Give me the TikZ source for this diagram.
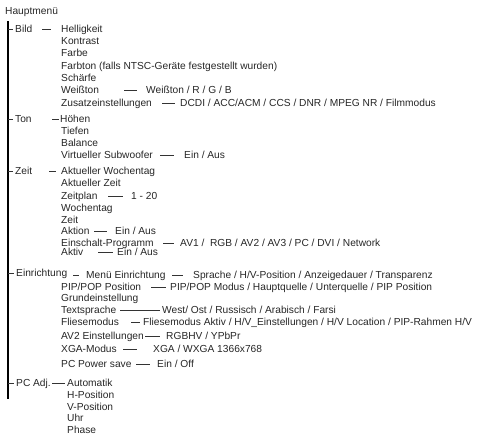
\documentclass[tikz,border=0pt]{standalone}
\usepackage{fontspec}
\setmainfont{Liberation Sans}
\begin{document}
\begin{tikzpicture}[x=1pt,y=-1pt,
  lbl/.style={anchor=west, inner sep=0pt, text height=7pt, text depth=1pt,
    font=\fontsize{10.2}{12}\selectfont, text=black!85},
  conn/.style={draw=black!80, line width=0.8pt},
  trunk/.style={draw=black, line width=2.6pt}]
\useasboundingbox (0,0) rectangle (479,437);
\coordinate (vtop) at (8,21);
\coordinate (vbot) at (8,399);
\draw[trunk] (vtop) -- (vbot);

\node[lbl] (hm) at (5,11) {Hauptmenü};

% Bild
\node[lbl] (bild) at (15,29) {Bild};
\node[lbl] (b1) at (61,29) {Helligkeit};
\node[lbl] (b2) at (61,41) {Kontrast};
\node[lbl] (b3) at (61,53) {Farbe};
\node[lbl] (b4) at (61,66) {Farbton (falls NTSC-Geräte festgestellt wurden)};
\node[lbl] (b5) at (61,78) {Schärfe};
\node[lbl] (b6) at (61,90) {Weißton};
\node[lbl] (b6a) at (146,90) {Weißton / R / G / B};
\node[lbl] (b7) at (61,103) {Zusatzeinstellungen};
\node[lbl] (b7a) at (180,103) {DCDI / ACC/ACM / CCS / DNR / MPEG NR / Filmmodus};

% Ton
\node[lbl] (ton) at (15,119) {Ton};
\node[lbl] (t1) at (60,119) {Höhen};
\node[lbl] (t2) at (61,131) {Tiefen};
\node[lbl] (t3) at (61,143) {Balance};
\node[lbl] (t4) at (61,155) {Virtueller Subwoofer};
\node[lbl] (t4a) at (184,155) {Ein / Aus};

% Zeit
\node[lbl] (zeit) at (15,171) {Zeit};
\node[lbl] (z1) at (61,171) {Aktueller Wochentag};
\node[lbl] (z2) at (61,183) {Aktueller Zeit};
\node[lbl] (z3) at (61,196) {Zeitplan};
\node[lbl] (z3a) at (131,196) {1 - 20};
\node[lbl] (z4) at (61,208) {Wochentag};
\node[lbl] (z5) at (61,220) {Zeit};
\node[lbl] (z6) at (61,231) {Aktion};
\node[lbl] (z6a) at (115,231) {Ein / Aus};
\node[lbl] (z7) at (61,243) {Einschalt-Programm};
\node[lbl] (z7a) at (180,243) {AV1 / \ RGB / AV2 / AV3 / PC / DVI / Network};
\node[lbl] (z8) at (61,252) {Aktiv};
\node[lbl] (z8a) at (117,252) {Ein / Aus};

% Einrichtung
\node[lbl] (einr) at (16,273) {Einrichtung};
\node[lbl] (e1) at (86,275) {Menü Einrichtung};
\node[lbl] (e1a) at (193,275) {Sprache / H/V-Position / Anzeigedauer / Transparenz};
\node[lbl] (e2) at (61,287) {PIP/POP Position};
\node[lbl] (e2a) at (170,287) {PIP/POP Modus / Hauptquelle / Unterquelle / PIP Position};
\node[lbl] (e3) at (61,298) {Grundeinstellung};
\node[lbl] (e4) at (61,310) {Textsprache};
\node[lbl] (e4a) at (162,310) {West/ Ost / Russisch / Arabisch / Farsi};
\node[lbl] (e5) at (61,322) {Fliesemodus};
\node[lbl] (e5a) at (143,322) {Fliesemodus Aktiv / H/V\_Einstellungen / H/V Location / PIP-Rahmen H/V};
\node[lbl] (e6) at (61,336) {AV2 Einstellungen};
\node[lbl] (e6a) at (166,336) {RGBHV / YPbPr};
\node[lbl] (e7) at (61,349) {XGA-Modus};
\node[lbl] (e7a) at (153,349) {XGA / WXGA 1366x768};
\node[lbl] (e8) at (61,364) {PC Power save};
\node[lbl] (e8a) at (157,364) {Ein / Off};

% PC Adj.
\node[lbl] (pc) at (16,383) {PC Adj.};
\node[lbl] (p1) at (67,383) {Automatik};
\node[lbl] (p2) at (67,395) {H-Position};
\node[lbl] (p3) at (67,407) {V-Position};
\node[lbl] (p4) at (67,418) {Uhr};
\node[lbl] (p5) at (67,430) {Phase};

% ticks from trunk
\foreach \n in {bild,ton,zeit,einr,pc}
  \draw[conn] (\n.west -| vtop) -- ([xshift=-2pt]\n.west);

% connectors
\draw[conn] ([xshift=-19pt]b1.west) -- ([xshift=-10pt]b1.west);
\draw[conn] ([xshift=-22pt]b6a.west) -- ([xshift=-9pt]b6a.west);
\draw[conn] ([xshift=-18pt]b7a.west) -- ([xshift=-5pt]b7a.west);
\draw[conn] ([xshift=-8pt]t1.west) -- ([xshift=-1pt]t1.west);
\draw[conn] ([xshift=-24pt]t4a.west) -- ([xshift=-10pt]t4a.west);
\draw[conn] ([xshift=-12pt]z1.west) -- ([xshift=-5pt]z1.west);
\draw[conn] ([xshift=-23pt]z3a.west) -- ([xshift=-8pt]z3a.west);
\draw[conn] ([xshift=-21pt]z6a.west) -- ([xshift=-8pt]z6a.west);
\draw[conn] ([xshift=-17pt]z7a.west) -- ([xshift=-6pt]z7a.west);
\draw[conn] ([xshift=-19pt]z8a.west) -- ([xshift=-4pt]z8a.west);
\draw[conn] ([xshift=-13pt]e1.west) -- ([xshift=-7pt]e1.west);
\draw[conn] ([xshift=-21pt]e1a.west) -- ([xshift=-10pt]e1a.west);
\draw[conn] ([xshift=-19pt]e2a.west) -- ([xshift=-4pt]e2a.west);
\draw[conn] ([xshift=-42pt]e4a.west) -- ([xshift=-2pt]e4a.west);
\draw[conn] ([xshift=-12pt]e5a.west) -- ([xshift=-3pt]e5a.west);
\draw[conn] ([xshift=-21pt]e6a.west) -- ([xshift=-6pt]e6a.west);
\draw[conn] ([xshift=-30pt]e7a.west) -- ([xshift=-16pt]e7a.west);
\draw[conn] ([xshift=-21pt]e8a.west) -- ([xshift=-7pt]e8a.west);
\draw[conn] ([xshift=-15pt]p1.west) -- ([xshift=-2pt]p1.west);
\end{tikzpicture}
\end{document}
